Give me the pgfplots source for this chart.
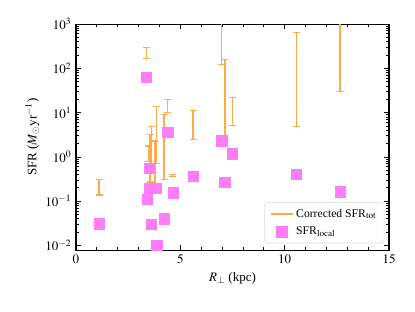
\documentclass[border=0pt]{standalone}
\usepackage{mathptmx}
\usepackage{fontspec}
\setmainfont{Liberation Serif}
\usepackage{pgfplots}
\usepackage{pgfplotstable}
\pgfplotsset{compat=1.18}
\definecolor{barorange}{RGB}{255,172,72}
\definecolor{sqpink}{RGB}{255,125,250}
\pgfplotstableread{
x lo ep em
1.11 0.138 0.172 0
3.38 168 128 0
3.47 0.8 0.96 0
3.55 0.27 2.93 0
3.62 0.55 4.25 0
3.85 0.72 12.88 0
3.78 0.18 2.12 0
4.23 0.31 8.69 0
4.39 10.2 9.8 0
4.64 0.36 0.04 0
5.61 2.5 8.8 0
6.98 123 2877 0
7.13 2.5 155.5 0
7.50 5.2 17.1 0
10.56 4.9 645.1 0
12.66 29.5 2970.5 0
}\bars
\pgfplotstableread{
x y
1.11 0.031
3.38 63
3.51 0.55
3.54 0.195
3.82 0.195
3.42 0.11
4.66 0.155
3.60 0.030
4.23 0.040
3.87 0.010
4.39 3.65
6.98 2.3
7.50 1.18
5.61 0.36
7.13 0.27
10.56 0.41
12.66 0.163
}\local
\begin{document}
\begin{tikzpicture}
\begin{axis}[
  scale only axis, width=241pt, height=174pt,
  xmin=0, xmax=15, ymode=log, ymin=0.0079, ymax=1000,
  xtick={0,5,10,15}, minor x tick num=4,
  ytick={0.01,0.1,1,10,100,1000},
  tick align=inside, tick pos=both,
  major tick length=3.8pt, minor tick length=2.2pt,
  every tick/.style={black, line width=0.6pt},
  axis line style={line width=0.8pt},
  xlabel={$R_\perp$ (kpc)},
  ylabel={SFR ($M_{\odot}{\rm yr}^{-1}$)},
  ylabel style={yshift=-2pt},
  legend cell align=left,
  legend style={at={(0.985,0.03)}, anchor=south east, draw=black!15, rounded corners=2pt, font=\small, row sep=2pt, inner xsep=4pt, inner ysep=3pt},
]
\addplot[draw=none, mark=none, forget plot,
  error bars/.cd, y dir=both, y explicit,
  error bar style={draw=barorange, line width=1.2pt},
  error mark options={draw=barorange, rotate=90, mark size=2.7pt, line width=1.0pt}]
  table[x=x, y=lo, y error plus=ep, y error minus=em] {\bars};
\addlegendimage{draw=barorange, line width=1.2pt}
\addlegendentry{Corrected SFR$_{\rm tot}$}
\addplot[only marks, mark=square*, mark size=4.0pt, color=sqpink, mark options={draw=sqpink, fill=sqpink}]
  table[x=x, y=y] {\local};
\addlegendentry{SFR$_{\rm local}$}
\end{axis}
\path ([xshift=-58.5pt,yshift=-47pt]current axis.south west) rectangle ([xshift=20pt,yshift=18.5pt]current axis.north east);
\end{tikzpicture}
\end{document}
